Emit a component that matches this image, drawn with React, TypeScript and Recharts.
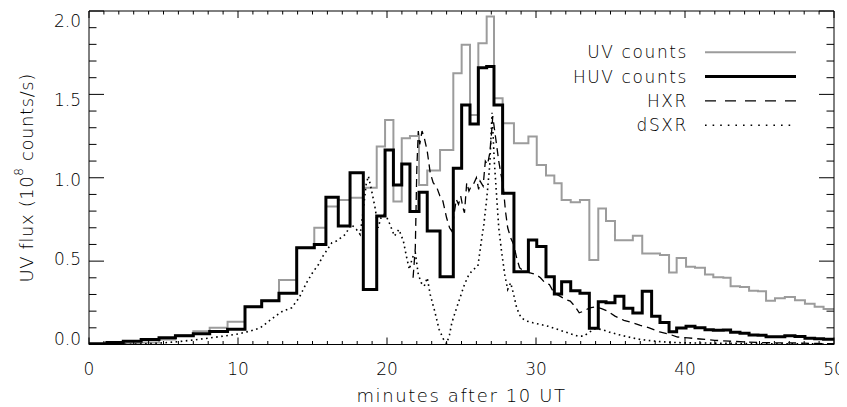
import { LineChart, Line, XAxis, YAxis } from 'recharts'

// step edges (minutes after 10 UT) shared by the two UV channels
const stepTimes = [
  0, 1.2, 2.3, 3.5, 4.7, 5.8, 7.0, 8.1, 9.3, 10.47, 11.59, 12.75, 13.94, 15.12, 15.9,
  16.73, 17.52, 18.41, 19.31, 19.87, 20.43, 20.99, 21.54, 22.15, 22.7, 23.56, 24.45,
  25.01, 25.57, 26.13, 26.69, 27.18, 27.76, 28.52, 29.49, 30.05, 30.67, 31.23, 31.72,
  32.33, 32.95, 33.58, 34.18, 34.7, 35.3, 35.9, 36.5, 37.13, 37.76, 38.32, 38.93,
  39.44, 40.07, 40.67, 41.34, 41.9, 42.57, 43.06, 43.69, 44.3, 44.9, 45.44, 46.04,
  46.7, 47.38, 48.05, 48.7, 49.3, 50,
]
const uvCounts = [
  0.0, 0.0, 0.004, 0.012, 0.03, 0.055, 0.08, 0.1, 0.137, 0.227, 0.263, 0.387, 0.58, 0.7, 0.827,
  0.867, 0.88, 0.94, 1.187, 1.347, 0.857, 1.237, 1.25, 0.957, 1.043, 1.167, 1.627,
  1.797, 1.377, 1.807, 1.967, 1.477, 1.327, 1.207, 1.247, 1.077, 1.013, 0.967, 0.867,
  0.853, 0.867, 0.507, 0.815, 0.74, 0.625, 0.625, 0.652, 0.545, 0.545, 0.537, 0.432,
  0.519, 0.467, 0.46, 0.42, 0.403, 0.4, 0.349, 0.345, 0.322, 0.32, 0.262, 0.277,
  0.285, 0.265, 0.245, 0.227, 0.213, 0.213,
]
const huvCounts = [
  0.005, 0.012, 0.02, 0.03, 0.04, 0.052, 0.065, 0.078, 0.092, 0.227, 0.263, 0.307, 0.58, 0.6, 0.883,
  0.711, 1.03, 0.33, 0.771, 1.167, 0.957, 1.083, 0.797, 0.913, 0.681, 0.407, 1.057,
  1.437, 1.323, 1.66, 1.667, 1.437, 0.907, 0.437, 0.627, 0.587, 0.407, 0.303, 0.377,
  0.323, 0.307, 0.097, 0.257, 0.25, 0.29, 0.217, 0.189, 0.32, 0.169, 0.132, 0.077,
  0.099, 0.11, 0.101, 0.088, 0.085, 0.087, 0.073, 0.068, 0.057, 0.055, 0.047, 0.047,
  0.052, 0.048, 0.037, 0.035, 0.032, 0.032,
]

const hxrTimes = [
  21.75, 21.9, 22.0, 22.1, 22.2, 22.35, 22.5, 22.7, 22.9, 23.1, 23.35, 23.55, 23.75, 24.0,
  24.2, 24.35, 24.5, 24.65, 24.8, 24.95, 25.1, 25.2, 25.35, 25.5, 25.6, 25.8, 26.0, 26.15,
  26.25, 26.45, 26.6, 26.75, 26.9, 27.0, 27.1, 27.2, 27.35, 27.5, 27.65, 27.8, 27.95, 28.1,
  28.3, 28.5, 28.7, 28.9, 29.2, 29.6, 30.0, 30.3, 30.6, 30.9, 31.2, 31.6, 32.0, 32.3, 32.6,
  32.9, 33.2, 33.6, 34.0, 34.4, 34.8, 35.3, 35.9, 36.5, 37.0, 37.6, 38.3, 39.0, 39.5, 40.2,
  41.0, 42.0, 43.0, 44.0, 45.0, 46.0, 47.0, 48.0, 49.0, 50.0,
]
const hxrFlux = [
  0.4, 0.58, 1.05, 1.28, 1.2, 1.28, 1.24, 1.16, 1.03, 0.97, 0.94, 0.89, 0.86, 0.76,
  0.7, 0.68, 0.78, 0.87, 0.84, 0.89, 0.82, 0.79, 0.97, 0.92, 0.94, 0.96, 1.0, 0.93,
  0.98, 0.95, 1.1, 1.08, 1.15, 1.25, 1.37, 1.3, 1.2, 1.1, 1.02, 0.95, 0.8, 0.7,
  0.64, 0.6, 0.52, 0.46, 0.44, 0.43, 0.42, 0.4, 0.37, 0.36, 0.31, 0.29, 0.27, 0.26, 0.23,
  0.19, 0.2, 0.22, 0.225, 0.215, 0.2, 0.17, 0.145, 0.13, 0.115, 0.1, 0.075, 0.06, 0.045, 0.04,
  0.033, 0.025, 0.02, 0.015, 0.012, 0.01, 0.01, 0.008, 0.006, 0.005,
]

const dsxrTimes = [
  0, 2, 3, 4, 5, 6, 7, 8, 9, 10, 10.8, 11.5, 12.0, 12.5, 13.0, 13.6, 14.1, 14.6, 15.0, 15.4,
  15.7, 16.0, 16.3, 16.6, 16.9, 17.2, 17.6, 17.95, 18.2, 18.4, 18.6, 18.75, 18.95, 19.2, 19.4,
  19.6, 19.8, 20.0, 20.2, 20.5, 20.8, 21.1, 21.3, 21.5, 21.7, 21.9, 22.1, 22.3, 22.5, 22.7,
  22.9, 23.2, 23.5, 23.8, 24.0, 24.2, 24.35, 24.6, 24.9, 25.2, 25.5, 25.8, 26.1, 26.3, 26.5,
  26.7, 26.9, 27.05, 27.2, 27.35, 27.5, 27.7, 27.9, 28.1, 28.3, 28.5, 28.7, 29.0, 29.4, 29.8,
  30.3, 30.8, 31.3, 31.8, 32.3, 32.8, 33.2, 33.6, 34.0, 34.4, 34.9, 35.5, 36.2, 37.0, 38.0,
  39.0, 40.0, 42.0, 45.0, 50.0,
]
const dsxrFlux = [
  0, 0, 0.002, 0.005, 0.01, 0.017, 0.027, 0.038, 0.05, 0.063, 0.08, 0.1, 0.135, 0.17, 0.2, 0.22,
  0.28, 0.37, 0.43, 0.48, 0.53, 0.57, 0.61, 0.62, 0.64, 0.66, 0.72, 0.69, 0.66, 0.8, 0.96, 1.01,
  0.93, 0.82, 0.7, 0.76, 0.78, 0.76, 0.72, 0.65, 0.69, 0.62, 0.53, 0.45, 0.52, 0.55, 0.42, 0.37,
  0.35, 0.4, 0.3, 0.2, 0.09, 0.03, 0.005, 0.06, 0.13, 0.2, 0.28, 0.36, 0.42, 0.45, 0.47, 0.6,
  0.72, 0.88, 1.08, 1.39, 1.1, 0.9, 0.7, 0.55, 0.42, 0.33, 0.37, 0.3, 0.22, 0.16, 0.14, 0.13,
  0.12, 0.11, 0.095, 0.08, 0.065, 0.05, 0.05, 0.075, 0.095, 0.09, 0.075, 0.06, 0.045, 0.03, 0.02,
  0.013, 0.01, 0.008, 0.005, 0.003,
]

const xMinorTicks = Array.from({ length: 51 }, (_, i) => i)
const yMinorTicks = Array.from({ length: 21 }, (_, i) => i / 10)

const legendItems = [
  { name: 'UV counts', stroke: '#9c9c9c', width: 2, dash: undefined },
  { name: 'HUV counts', stroke: '#000', width: 3, dash: undefined },
  { name: 'HXR', stroke: '#000', width: 1.3, dash: '11 9' },
  { name: 'dSXR', stroke: '#000', width: 1.6, dash: '1.6 6' },
]

const W = 839
const H = 399
// plot box: left 81, top 3, right 826, bottom 336.5 (svg coords)
const AXIS_LEFT = 81
const AXIS_RIGHT = 13
const AXIS_TOP = 3
const AXIS_BOTTOM = 62.5
const font = '"DejaVu Sans", sans-serif'
const textFill = '#000'

const stepRows = stepTimes.map((t, i) => ({ t, uv: uvCounts[i], huv: huvCounts[i] }))
const hxrRows = hxrTimes.map((t, i) => ({ t, hxr: hxrFlux[i] }))
const dsxrRows = dsxrTimes.map((t, i) => ({ t, dsxr: dsxrFlux[i] }))

const isMajorX = (v: number) => v % 10 === 0
const isMajorY = (v: number) => Math.abs(v * 2 - Math.round(v * 2)) < 1e-6

const BottomTick = ({ x, y, payload }: any) => {
  const major = isMajorX(payload.value)
  return (
    <g>
      <line x1={x} x2={x} y1={y} y2={y - (major ? 7 : 3.5)} stroke="#000" />
      {major && (
        <text x={x} y={y + 30.5} textAnchor="middle" fontSize={17} fontWeight={300} fontFamily={font} fill={textFill}>
          {payload.value}
        </text>
      )}
    </g>
  )
}

const TopTick = ({ x, y, payload }: any) => {
  const major = isMajorX(payload.value)
  return <line x1={x} x2={x} y1={y} y2={y + (major ? 7 : 3.5)} stroke="#000" />
}

const LeftTick = ({ x, y, payload }: any) => {
  const v = payload.value
  const major = isMajorY(v)
  return (
    <g>
      <line x1={x} x2={x + (major ? 15 : 7.5)} y1={y} y2={y} stroke="#000" />
      {major && (
        <text
          x={x - 8}
          y={y + v * 7.75}
          textAnchor="end"
          fontSize={17}
          fontWeight={300}
          fontFamily={font}
          fill={textFill}
        >
          {v.toFixed(1)}
        </text>
      )}
    </g>
  )
}

const RightTick = ({ x, y, payload }: any) => {
  const major = isMajorY(payload.value)
  return <line x1={x} x2={x - (major ? 15 : 7.5)} y1={y} y2={y} stroke="#000" />
}

export default function App() {
  const plotW = W - AXIS_LEFT - AXIS_RIGHT
  const plotH = H - AXIS_TOP - AXIS_BOTTOM
  const legendTextX = 680
  const legendLineX = 697
  const legendLineLen = 91

  return (
    <LineChart width={W} height={H} margin={{ top: 0, right: 0, bottom: 0, left: 0 }}>
      <XAxis
        xAxisId="b"
        type="number"
        dataKey="t"
        domain={[0, 50]}
        ticks={xMinorTicks}
        interval={0}
        tickSize={0}
        tickMargin={0}
        tick={BottomTick}
        height={AXIS_BOTTOM}
        axisLine={{ stroke: '#000' }}
        allowDataOverflow
      />
      <XAxis
        xAxisId="top"
        orientation="top"
        type="number"
        dataKey="t"
        domain={[0, 50]}
        ticks={xMinorTicks}
        interval={0}
        tickSize={0}
        tickMargin={0}
        tick={TopTick}
        height={AXIS_TOP}
        axisLine={{ stroke: '#000' }}
        allowDataOverflow
      />
      <YAxis
        yAxisId="l"
        type="number"
        domain={[0, 2]}
        ticks={yMinorTicks}
        interval={0}
        tickSize={0}
        tickMargin={0}
        tick={LeftTick}
        width={AXIS_LEFT}
        axisLine={{ stroke: '#000' }}
        allowDataOverflow
      />
      <YAxis
        yAxisId="r"
        orientation="right"
        type="number"
        domain={[0, 2]}
        ticks={yMinorTicks}
        interval={0}
        tickSize={0}
        tickMargin={0}
        tick={RightTick}
        width={AXIS_RIGHT}
        axisLine={{ stroke: '#000' }}
        allowDataOverflow
      />
      <Line
        xAxisId="b"
        yAxisId="l"
        data={stepRows}
        dataKey="uv"
        type="stepAfter"
        stroke="#9c9c9c"
        strokeWidth={2}
        dot={false}
        activeDot={false}
        isAnimationActive={false}
      />
      <Line
        xAxisId="b"
        yAxisId="l"
        data={stepRows}
        dataKey="huv"
        type="stepAfter"
        stroke="#000"
        strokeWidth={3}
        dot={false}
        activeDot={false}
        isAnimationActive={false}
      />
      <Line
        xAxisId="b"
        yAxisId="l"
        data={hxrRows}
        dataKey="hxr"
        type="linear"
        stroke="#000"
        strokeWidth={1.3}
        strokeDasharray="8 5"
        dot={false}
        activeDot={false}
        isAnimationActive={false}
      />
      <Line
        xAxisId="b"
        yAxisId="l"
        data={dsxrRows}
        dataKey="dsxr"
        type="linear"
        stroke="#000"
        strokeWidth={1.6}
        strokeDasharray="1.6 3.5"
        dot={false}
        activeDot={false}
        isAnimationActive={false}
      />

      {/* axis titles */}
      <text
        x={AXIS_LEFT + plotW / 2}
        y={AXIS_TOP + plotH + 57.5}
        textAnchor="middle"
        fontSize={18}
        fontWeight={300}
        letterSpacing={1.6}
        fontFamily={font}
        fill={textFill}
      >
        minutes after 10 UT
      </text>
      <text
        transform={`translate(18, ${AXIS_TOP + plotH / 2}) rotate(-90)`}
        textAnchor="middle"
        dominantBaseline="central"
        fontSize={18}
        fontWeight={300}
        letterSpacing={0.6}
        fontFamily={font}
        fill={textFill}
      >
        UV flux (10
        <tspan fontSize={12} dy={-7}>8</tspan>
        <tspan dy={7}> counts/s)</tspan>
      </text>

      {/* legend */}
      {legendItems.map((item, i) => {
        const ly = 44.3 + i * 24.3
        return (
          <g key={item.name}>
            <text
              x={legendTextX}
              y={ly + 6}
              textAnchor="end"
              fontSize={17}
              fontWeight={300}
              letterSpacing={1.6}
              fontFamily={font}
              fill={textFill}
            >
              {item.name}
            </text>
            <line
              x1={legendLineX}
              x2={legendLineX + legendLineLen}
              y1={ly}
              y2={ly}
              stroke={item.stroke}
              strokeWidth={item.width}
              strokeDasharray={item.dash}
            />
          </g>
        )
      })}
    </LineChart>
  )
}
